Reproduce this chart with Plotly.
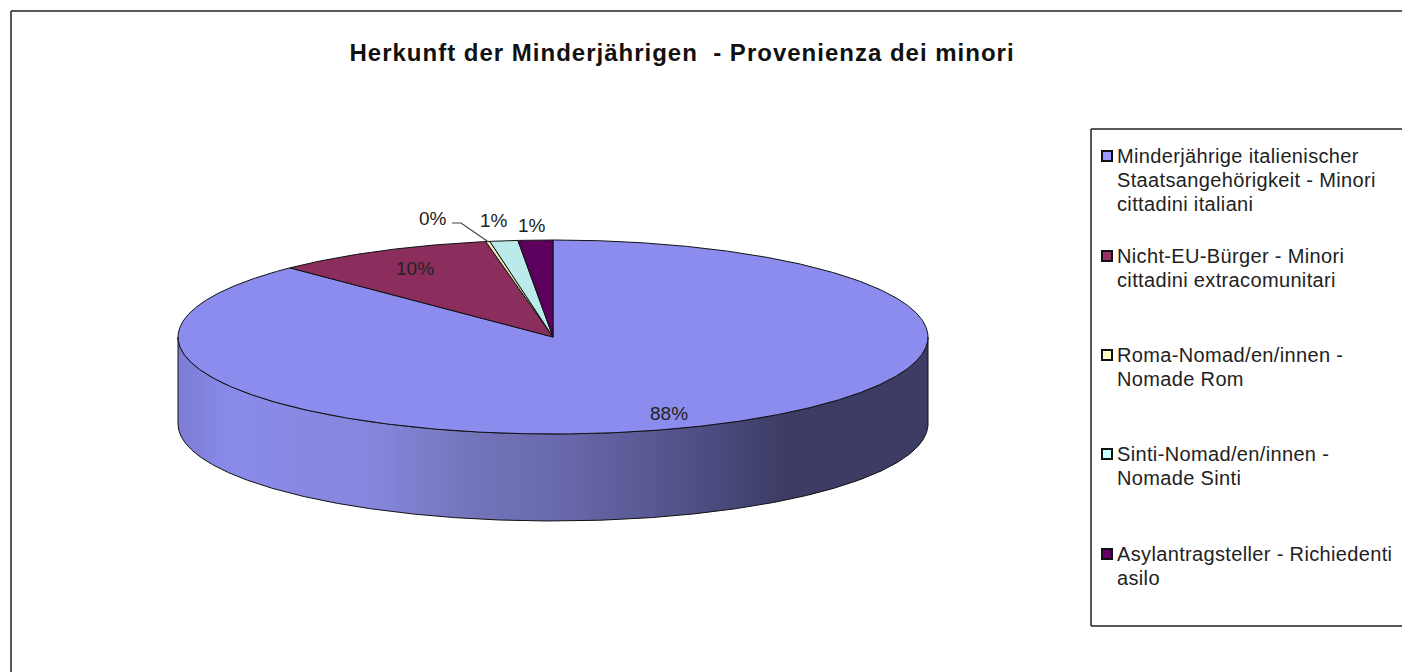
import numpy as np
import plotly.graph_objects as go

TITLE = "Herkunft der Minderjährigen  - Provenienza dei minori"
categories = [
    "Minderjährige italienischer<br>Staatsangehörigkeit - Minori<br>cittadini italiani",
    "Nicht-EU-Bürger - Minori<br>cittadini extracomunitari",
    "Roma-Nomad/en/innen -<br>Nomade Rom",
    "Sinti-Nomad/en/innen -<br>Nomade Sinti",
    "Asylantragsteller - Richiedenti<br>asilo",
]
values = [87.6, 9.5, 0.18, 1.2, 1.49]
pct_labels = ["88%", "10%", "0%", "1%", "1%"]
top_colors = ["#8C8CEE", "#8B2D5D", "#E8E8BA", "#BAEAEA", "#5D005D"]
legend_colors = ["#9999FF", "#993366", "#FFFFCC", "#CCFFFF", "#660066"]

FONT = "Liberation Sans"
CX, CY, RX, RY, DEPTH = 553, 337, 375, 97, 87
label_pos = [(669, 413), (415, 268), (433, 218), (494, 220), (532, 225)]
legend_y = [156, 256, 355, 454, 554]
LINE_PITCH = 24

fig = go.Figure()


def arc(a0, a1, dy=0):
    t = np.radians(np.linspace(a0, a1, max(2, int(abs(a1 - a0) * 4) + 2)))
    return CX + RX * np.sin(t), CY + dy - RY * np.cos(t)


# cumulative angles clockwise from the top of the pie
edges = np.concatenate([[0], np.cumsum(values)]) / sum(values) * 360

# side wall: visible only on the front half of the ellipse
for a0, a1 in zip(edges[:-1], edges[1:]):
    lo, hi = max(a0, 90), min(a1, 270)
    if hi <= lo:
        continue
    x1, y1 = arc(lo, hi)
    x2, y2 = arc(hi, lo, DEPTH)
    fig.add_trace(go.Scatter(
        x=np.r_[x1, x2, x1[0]], y=np.r_[y1, y2, y1[0]], mode="lines",
        line=dict(color="#111111", width=1), fill="toself",
        fillgradient=dict(type="horizontal", colorscale=[
            [0.0, "#7C7CD4"], [0.07, "#8A8AEA"], [0.26, "#8686DD"],
            [0.39, "#7474BB"], [0.5, "#6A6AAE"], [0.62, "#5A5A95"],
            [0.72, "#4A4A7E"], [0.81, "#3C3C64"], [1.0, "#3C3C64"]]),
        hoverinfo="skip", showlegend=False))

# top face slices
for a0, a1, col in zip(edges[:-1], edges[1:], top_colors):
    x, y = arc(a0, a1)
    fig.add_trace(go.Scatter(
        x=np.r_[CX, x, CX], y=np.r_[CY, y, CY], mode="lines",
        line=dict(color="#111111", width=1), fill="toself", fillcolor=col,
        hoverinfo="skip", showlegend=False))

# leader line of the 0% label
mid = np.radians((edges[2] + edges[3]) / 2)
fig.add_trace(go.Scatter(
    x=[452, 461, CX + RX * np.sin(mid)], y=[223, 223, CY - RY * np.cos(mid)],
    mode="lines", line=dict(color="#444444", width=1.2),
    hoverinfo="skip", showlegend=False))

# legend swatches
fig.add_trace(go.Scatter(
    x=[1107] * len(categories), y=legend_y, mode="markers",
    marker=dict(symbol="square", size=10, color=legend_colors,
                line=dict(color="#111111", width=2)),
    hoverinfo="skip", showlegend=False))

ann = [dict(x=682, y=52, text="<b>%s</b>" % TITLE, showarrow=False,
            xanchor="center", yanchor="middle",
            font=dict(family=FONT, size=24, color="#111111"))]
for (x, y), t in zip(label_pos, pct_labels):
    ann.append(dict(x=x, y=y, text=t, showarrow=False, xanchor="center", yanchor="middle",
                    font=dict(family=FONT, size=19, color="#222222")))
for y, t in zip(legend_y, categories):
    for i, part in enumerate(t.split("<br>")):
        ann.append(dict(x=1115, y=y + i * LINE_PITCH, text=part, showarrow=False,
                        xanchor="left", yanchor="middle", align="left",
                        font=dict(family=FONT, size=20, color="#222222")))

line = dict(color="#222222", width=1.5)
shapes = [
    dict(type="line", x0=11, y0=11, x1=1402, y1=11, line=line),
    dict(type="line", x0=11, y0=11, x1=11, y1=672, line=line),
    dict(type="line", x0=1091, y0=129, x1=1402, y1=129, line=line),
    dict(type="line", x0=1091, y0=129, x1=1091, y1=626, line=line),
    dict(type="line", x0=1091, y0=626, x1=1402, y1=626, line=line),
]

fig.update_layout(
    width=1402, height=672, margin=dict(l=0, r=0, t=0, b=0),
    paper_bgcolor="white", plot_bgcolor="white",
    xaxis=dict(range=[0, 1402], visible=False, fixedrange=True),
    yaxis=dict(range=[672, 0], visible=False, fixedrange=True),
    annotations=ann, shapes=shapes,
)
POST = """
document.body.style.margin='0';document.body.style.overflow='hidden';
function spaceText(){
  var n=document.querySelectorAll('.annotation-text');
  n.forEach(function(t,i){
    if(i===0){t.style.letterSpacing='1px';}
    else if(i>5){t.style.letterSpacing='0.35px';}
  });
}
spaceText();setTimeout(spaceText,50);
"""
fig.write_html("out.html", post_script=POST, config=dict(displayModeBar=False))
